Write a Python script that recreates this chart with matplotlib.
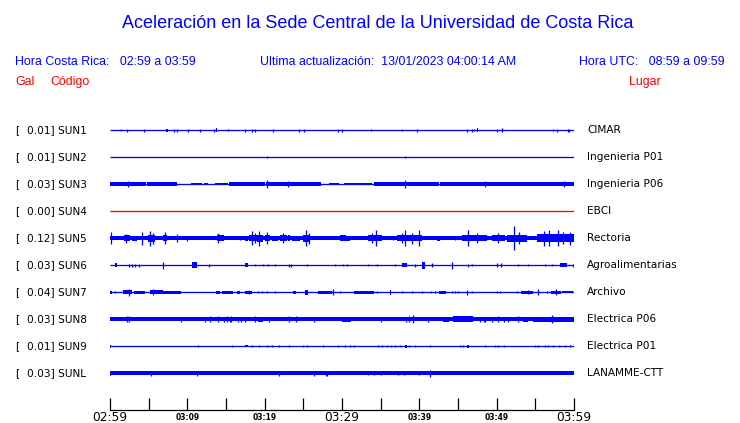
#! /usr/bin/python

# ACELERACION SEDE CENTRAL - 10 station traces

from matplotlib import pyplot as plt

BLUE = '#0000ff'
RED = '#ff0000'

# station info
codes = ['SUN1', 'SUN2', 'SUN3', 'SUN4', 'SUN5', 'SUN6', 'SUN7', 'SUN8', 'SUN9', 'SUNL']
gal = ['0.01', '0.01', '0.03', '0.00', '0.12', '0.03', '0.04', '0.03', '0.01', '0.03']
places = ['CIMAR', 'Ingenieria P01', 'Ingenieria P06', 'EBCI', 'Rectoria',
          'Agroalimentarias', 'Archivo', 'Electrica P06', 'Electrica P01', 'LANAMME-CTT']
trace_colors = [BLUE, BLUE, BLUE, RED, BLUE, BLUE, BLUE, BLUE, BLUE, BLUE]

# background amplitude (half height) of every trace
base_amp = [0.5, 0.6, 0.5, 0.5, 1.9, 0.5, 0.5, 1.8, 0.5, 1.9]

# bursts: (start minute, end minute, half amplitude); start == end is a single spike
sun1 = [(1.4, 1.4, 1.0), (2.2, 2.2, 1.5), (4.35, 4.35, 1.5), (7.2, 7.5, 1.5), (8.3, 8.3, 1.5),
        (8.7, 8.7, 1.5), (10.1, 10.1, 1.5), (11.7, 11.7, 1.5), (13.4, 13.4, 1.5), (13.7, 13.9, 1.8),
        (15.3, 15.3, 1.2), (17.5, 17.5, 1.5), (18.3, 18.3, 1.5), (18.7, 18.7, 1.5), (21.1, 21.1, 1.5),
        (24.5, 24.5, 1.5), (25.1, 25.1, 1.5), (29.5, 29.5, 1.5), (30.0, 30.0, 1.5), (33.7, 33.7, 1.0),
        (37.7, 37.7, 1.2), (39.7, 39.7, 1.5), (46.1, 46.1, 1.5), (46.85, 46.85, 1.5), (47.1, 47.1, 1.2),
        (47.4, 47.6, 1.8), (50.0, 50.0, 1.5), (50.7, 50.7, 1.8), (57.3, 57.3, 1.2), (57.8, 57.8, 1.5),
        (59.2, 59.2, 1.5), (59.4, 59.4, 1.5)]
sun2 = [(20.3, 20.3, 1.2), (38.2, 38.2, 1.2)]
sun3 = [(0.0, 4.6, 1.6), (4.8, 8.6, 1.6), (10.5, 11.9, 1.4), (12.1, 12.7, 1.3), (13.6, 15.2, 1.4),
        (15.4, 20.1, 1.8), (20.2, 27.3, 1.7), (28.3, 29.6, 1.3), (30.3, 33.9, 1.4), (34.2, 42.6, 1.7),
        (42.7, 60.0, 1.9), (2.3, 2.3, 3.0), (20.3, 20.3, 4.0), (23.0, 23.0, 3.0), (38.2, 38.2, 4.0),
        (48.5, 48.5, 3.0), (58.7, 58.7, 3.0)]
sun4 = []
sun5 = [(0.0, 0.8, 2.3), (0.1, 0.1, 6.0), (1.8, 2.6, 2.8), (2.1, 2.1, 4.5), (2.8, 3.5, 2.5),
        (3.6, 3.9, 2.1), (4.2, 4.2, 6.5), (4.9, 5.8, 3.5), (5.2, 5.2, 7.5), (5.5, 5.5, 5.5),
        (6.9, 7.4, 3.0), (7.1, 7.1, 6.0), (8.7, 8.7, 4.0), (9.9, 9.9, 2.5), (10.5, 10.8, 2.3),
        (11.4, 11.7, 2.3), (13.8, 14.7, 2.8), (14.0, 14.0, 5.0), (16.8, 16.8, 2.2), (17.5, 17.9, 2.5),
        (18.0, 19.0, 3.3), (18.3, 18.3, 7.0), (18.7, 18.7, 5.0), (19.0, 19.8, 3.5), (19.3, 19.3, 7.5),
        (20.0, 20.7, 3.0), (20.3, 20.3, 6.0), (21.0, 21.7, 2.5), (22.0, 22.9, 2.8), (22.4, 22.4, 5.0),
        (23.0, 23.3, 3.3), (23.5, 24.6, 2.5), (25.0, 25.9, 3.5), (25.4, 25.4, 8.0), (25.7, 25.7, 5.5),
        (29.7, 30.5, 2.8), (30.4, 31.0, 2.5), (33.4, 35.2, 3.0), (34.4, 34.4, 8.0), (33.9, 33.9, 5.0),
        (36.6, 36.6, 2.2), (37.1, 40.3, 3.0), (38.2, 38.2, 8.0), (39.9, 39.9, 8.0), (37.7, 37.7, 5.0),
        (39.1, 39.1, 5.5), (42.3, 42.7, 2.5), (44.6, 44.6, 2.2), (45.5, 48.7, 3.0), (46.3, 46.3, 8.0),
        (47.4, 47.4, 5.0), (49.4, 51.1, 3.0), (50.2, 50.2, 5.0), (51.3, 53.9, 3.5), (52.3, 52.3, 12.0),
        (52.9, 52.9, 6.0), (55.2, 60.0, 3.8), (56.1, 56.1, 7.5), (56.8, 56.8, 8.0), (57.9, 57.9, 8.0),
        (58.6, 58.6, 6.0), (59.5, 59.5, 6.5)]
sun6 = [(0.6, 0.9, 2.0), (2.4, 2.4, 1.5), (2.8, 2.8, 1.5), (3.2, 3.2, 1.5), (3.7, 3.7, 1.5),
        (6.9, 6.9, 3.5), (10.6, 11.2, 3.0), (12.8, 12.8, 1.5), (17.5, 17.9, 2.0), (18.8, 18.8, 1.2),
        (19.8, 19.8, 1.2), (20.4, 20.4, 1.2), (21.4, 21.4, 1.0), (23.1, 23.1, 1.5), (23.4, 23.4, 1.5),
        (25.5, 25.5, 1.0), (29.1, 29.1, 1.2), (30.1, 30.1, 1.2), (30.7, 30.7, 1.2), (33.4, 33.4, 1.2),
        (34.5, 34.5, 1.0), (36.9, 36.9, 1.2), (37.8, 38.4, 2.0), (39.4, 39.4, 1.5), (40.3, 40.7, 3.5),
        (41.6, 41.6, 2.0), (44.2, 44.2, 3.5), (46.3, 46.3, 1.5), (46.8, 46.8, 1.2), (50.0, 50.0, 2.0),
        (50.6, 50.6, 2.0), (52.7, 52.7, 1.2), (54.0, 54.0, 1.2), (56.2, 56.2, 1.0), (57.1, 57.1, 1.0),
        (58.2, 59.1, 2.0), (59.9, 59.9, 1.5)]
sun7 = [(0.0, 0.2, 1.5), (0.7, 0.7, 1.0), (1.7, 2.8, 2.2), (2.4, 2.4, 3.5), (3.1, 4.5, 1.5),
        (5.2, 6.9, 2.0), (5.5, 5.5, 3.0), (6.9, 9.2, 1.5), (13.7, 14.2, 1.5), (14.5, 15.9, 1.5),
        (16.4, 16.8, 1.5), (17.5, 18.3, 1.5), (18.0, 18.0, 2.0), (19.1, 19.1, 1.2), (19.6, 19.6, 1.2),
        (20.3, 20.3, 1.2), (21.4, 21.4, 1.2), (23.7, 24.1, 1.5), (25.2, 25.6, 2.5), (26.9, 28.7, 1.5),
        (28.8, 28.8, 3.0), (29.7, 29.7, 1.0), (31.6, 34.1, 1.5), (34.5, 34.5, 1.0), (36.2, 36.4, 2.5),
        (37.8, 37.8, 1.2), (39.0, 39.0, 1.2), (40.3, 40.3, 1.2), (41.5, 41.5, 1.2), (42.0, 42.0, 1.2),
        (42.5, 43.5, 1.5), (44.2, 44.2, 1.2), (44.6, 44.6, 1.2), (45.0, 45.0, 1.2), (46.1, 46.1, 2.5),
        (46.8, 46.8, 1.2), (50.0, 50.0, 1.2), (50.4, 50.4, 1.2), (52.6, 52.6, 1.2), (53.2, 54.7, 1.5),
        (54.0, 54.0, 2.2), (55.4, 55.4, 3.0), (56.5, 56.5, 1.0), (57.0, 58.3, 1.5), (57.7, 57.7, 3.0),
        (58.5, 59.9, 1.0)]
sun8 = [(2.16, 2.16, 2.8), (2.46, 2.46, 2.8), (9.2, 9.2, 2.5), (12.3, 12.3, 2.5), (12.9, 12.9, 2.8),
        (14.0, 14.0, 2.8), (14.8, 14.8, 2.5), (15.1, 15.1, 2.8), (15.5, 15.5, 2.5), (15.7, 15.7, 2.8),
        (16.5, 16.5, 2.5), (16.9, 16.9, 2.5), (17.4, 17.4, 2.5), (18.7, 18.7, 2.8), (19.1, 19.8, 2.5),
        (20.5, 20.5, 2.5), (23.1, 23.1, 2.8), (24.1, 24.1, 2.8), (26.4, 26.4, 2.5), (30.0, 31.2, 2.5),
        (35.0, 35.0, 2.5), (38.3, 38.3, 2.5), (38.6, 38.6, 2.8), (39.2, 39.2, 4.0), (41.1, 41.1, 2.5),
        (43.1, 43.8, 2.5), (44.4, 47.0, 2.6), (47.8, 47.8, 2.5), (48.3, 48.3, 2.5), (48.5, 48.5, 2.5),
        (49.4, 49.4, 2.5), (50.2, 50.2, 2.8), (50.9, 50.9, 2.5), (51.5, 51.5, 2.5), (52.7, 52.7, 2.8),
        (53.4, 54.1, 2.5), (54.7, 60.0, 2.5), (57.1, 57.1, 4.0)]
sun9 = [(0.0, 0.1, 1.5), (11.4, 11.4, 1.0), (15.8, 15.8, 1.0), (17.4, 17.8, 1.3), (18.3, 18.3, 1.0),
        (19.3, 19.3, 1.0), (20.3, 20.3, 1.3), (20.9, 20.9, 1.0), (21.9, 21.9, 1.0), (23.1, 23.1, 1.0),
        (24.9, 24.9, 1.0), (25.5, 25.5, 1.0), (27.6, 27.6, 1.0), (29.5, 29.5, 1.0), (30.4, 30.4, 1.0),
        (31.0, 31.0, 1.0), (31.5, 31.5, 1.0), (34.6, 34.6, 1.0), (35.2, 35.2, 1.0), (35.8, 35.8, 1.0),
        (36.4, 36.4, 1.0), (36.9, 36.9, 1.0), (37.5, 37.5, 1.0), (38.2, 38.4, 1.5), (38.7, 38.7, 1.0),
        (39.4, 39.4, 1.0), (41.4, 41.4, 1.0), (45.3, 45.3, 1.0), (45.7, 45.7, 1.0), (46.2, 46.4, 1.5),
        (48.5, 48.5, 1.0), (49.8, 49.8, 1.0), (50.2, 50.2, 1.0), (50.9, 50.9, 1.0), (55.0, 55.0, 1.0),
        (55.4, 55.4, 1.0), (56.3, 56.3, 1.0), (56.7, 56.7, 1.0), (57.3, 57.3, 1.0), (58.0, 58.0, 1.0),
        (58.8, 58.8, 1.0), (59.5, 59.5, 1.0)]
sunl = [(0.0, 0.1, 2.5), (5.3, 5.3, 2.5), (11.3, 11.3, 2.5), (21.8, 21.8, 2.5), (26.4, 26.4, 2.5),
        (27.9, 27.9, 2.5), (28.1, 28.1, 2.5), (33.4, 33.4, 2.3), (34.1, 34.1, 2.3), (35.1, 35.1, 2.3),
        (37.2, 37.2, 2.3), (38.0, 38.0, 2.3), (40.0, 40.0, 2.3), (41.4, 41.4, 3.5)]
bursts = [sun1, sun2, sun3, sun4, sun5, sun6, sun7, sun8, sun9, sunl]

# time axis (minutes after 02:59)
tick_min = list(range(0, 61, 5))
tick_lab = {0: '02:59', 10: '03:09', 20: '03:19', 30: '03:29', 40: '03:39', 50: '03:49', 60: '03:59'}
big_ticks = [0, 30, 60]

W, H = 740, 423
ROW_PX = 27.0   # row spacing in pixels, amplitudes above are pixels

fig = plt.figure(figsize=(W / 100, H / 100), dpi=100)
fig.patch.set_facecolor('white')

# axes spans x 110..574 px, y 115..410 px
ax = fig.add_axes([110 / W, 1 - 410 / H, 464 / W, 295 / H])
ax.set_xlim(0, 60)
ax.set_ylim(10.37, -0.556)
for s in ['left', 'top', 'right']:
    ax.spines[s].set_visible(False)
ax.spines['bottom'].set_linewidth(0.9)
ax.set_yticks([])

for i in range(len(codes)):
    col = trace_colors[i]
    b = base_amp[i]
    if b < 1:
        # thin trace: plain line about one pixel wide
        ax.hlines(i, 0, 60, color=col, lw=max(2 * b, 1.3) * 0.72)
    else:
        ax.fill_between([0, 60], i - b / ROW_PX, i + b / ROW_PX, color=col, lw=0)
    for t0, t1, a in bursts[i]:
        a = a / ROW_PX
        if t1 > t0:
            ax.fill_between([t0, t1], i - a, i + a, color=col, lw=0)
        else:
            ax.vlines(t0, i - a, i + a, color=col, lw=0.9)

ax.set_xticks(tick_min)
ax.set_xticklabels([tick_lab.get(m, '') for m in tick_min])
ax.tick_params(axis='x', direction='in', length=9, width=0.9, pad=1)
for m, lab in zip(tick_min, ax.get_xticklabels()):
    if m in big_ticks:
        lab.set_fontsize(8.8)
    else:
        lab.set_fontsize(5.5)
        lab.set_fontweight('bold')
        lab.set_y(-0.005)

# left and right labels
for i in range(len(codes)):
    yf = 1 - (130 + ROW_PX * i) / H
    fig.text(15 / W, yf, '[', fontsize=7.6, va='center', ha='left')
    fig.text(27 / W, yf, gal[i] + '] ' + codes[i], fontsize=7.6, va='center', ha='left')
    fig.text(587 / W, yf, places[i], fontsize=7.6, va='center', ha='left')

# header
hf = 'Liberation Sans'
hs = 8.9
fig.text(378 / W, 1 - 24 / H, 'Aceleración en la Sede Central de la Universidad de Costa Rica',
         fontsize=13, color=BLUE, family=hf, ha='center', va='center')
fig.text(15 / W, 1 - 62 / H, 'Hora Costa Rica:   02:59 a 03:59', fontsize=hs, color=BLUE,
         family=hf, va='center')
fig.text(260 / W, 1 - 62 / H, 'Ultima actualización:  13/01/2023 04:00:14 AM', fontsize=hs,
         color=BLUE, family=hf, va='center')
fig.text(725 / W, 1 - 62 / H, 'Hora UTC:   08:59 a 09:59', fontsize=hs, color=BLUE,
         family=hf, va='center', ha='right')
fig.text(15 / W, 1 - 82 / H, 'Gal', fontsize=hs, color=RED, family=hf, va='center')
fig.text(50 / W, 1 - 82 / H, 'Código', fontsize=hs, color=RED, family=hf, va='center')
fig.text(661 / W, 1 - 82 / H, 'Lugar', fontsize=hs, color=RED, family=hf, va='center', ha='right')

fig.savefig('out.png', dpi=100)
